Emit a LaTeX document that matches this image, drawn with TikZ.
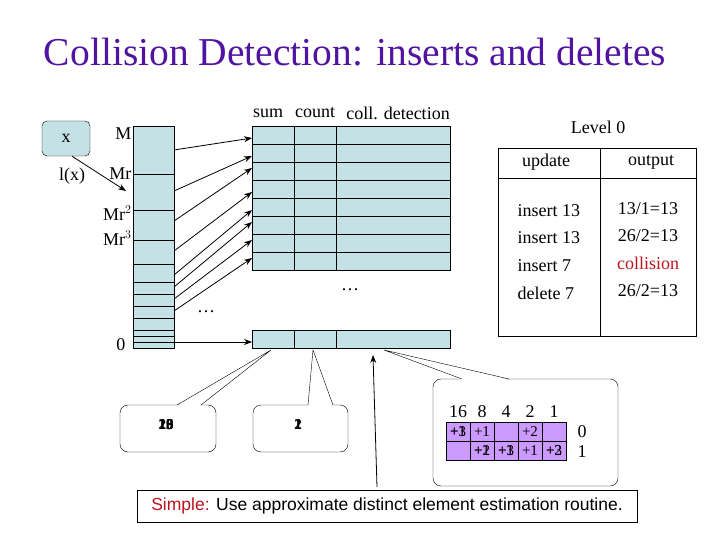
\documentclass[tikz,border=0pt]{standalone}
\usepackage{fontspec}
\setmainfont{Liberation Serif}
\setsansfont{Liberation Sans}
\usetikzlibrary{arrows.meta}
\definecolor{cellblue}{RGB}{196,226,230}
\definecolor{bitpurple}{RGB}{204,153,255}
\definecolor{titlepurple}{RGB}{80,20,160}
\definecolor{darkred}{RGB}{190,20,30}
\begin{document}
\begin{tikzpicture}[x=1pt,y=-1pt,font=\fontsize{18}{20}\selectfont,
	cellstyle/.style={draw,fill=cellblue},
	ptr/.style={-{Stealth[length=8pt,width=6pt]},thick},
	callout/.style={draw,rounded corners=8pt,fill=white}]
	\useasboundingbox (0,0) rectangle (720,540);
	\node[titlepurple,font=\fontsize{39.5}{42}\selectfont] (title) at (355,52) {Collision Detection: inserts and deletes};
	% input element
	\node[cellstyle,rounded corners=5pt,minimum width=48pt,minimum height=35pt] (x) at (66,138.5) {x};
	\node (lx) at (72,176) {l(x)};
	\coordinate (hit) at (126,191);
	\draw[ptr] (x.south) ++(6,0) -- (hit);
	% level column
	\draw[cellstyle] (133,126) rectangle (174,348);
	\foreach \y in {174,210,240,264,282,294,306,318,330,336,342}
		\draw (133,\y) -- (174,\y);
	\node[anchor=east] (M) at (135,134) {M};
	\node[anchor=east] (Mr) at (135,174) {Mr};
	\node[anchor=east] (Mr2) at (135,213) {Mr$^2$};
	\node[anchor=east] (Mr3) at (135,238) {Mr$^3$};
	\node[anchor=east] (zero) at (129,345) {0};
	% level tables
	\foreach \i in {0,...,7}
		\draw[cellstyle] (252,126+18*\i) rectangle (294,144+18*\i) (294,126+18*\i) rectangle (336,144+18*\i) (336,126+18*\i) rectangle (450,144+18*\i);
	\draw[cellstyle] (252,330) rectangle (294,348) (294,330) rectangle (336,348) (336,330) rectangle (450,348);
	\node (sum) at (268,113) {sum};
	\node (count) at (315,113) {count};
	\node (coll) at (398,113) {coll. detection};
	\foreach \a/\b [count=\k] in {150/138,191/156,221/168,251/192,275/210,287/222,299/240,311/258,342/342} {
		\coordinate (src\k) at (174,\a);
		\coordinate (dst\k) at (252,\b);
		\draw[ptr] (src\k) -- (dst\k);
	}
	\node (dots1) at (350,290) {\dots};
	\node (dots2) at (206,312) {\dots};
	% level 0 trace
	\node (level) at (598,127) {Level 0};
	\draw (498,148) rectangle (696,336) (600,148) -- (600,336) (498,178) -- (696,178);
	\node (upd) at (546,162) {update};
	\node (out) at (651,162) {output};
	\foreach \u/\o [count=\k] in {insert 13/13\slash1=13,insert 13/26\slash2=13,insert 7/{\color{darkred}collision},delete 7/26\slash2=13} {
		\node[anchor=west] (u\k) at (514,183+27.5*\k) {\u};
		\node (o\k) at (648,181+27.5*\k) {\o};
	}
	% callouts
	\draw[callout] (120,405) rectangle (216,452);
	\fill[white] (177,406) -- (271,350) -- (201,406) -- cycle;
	\draw (177,405) -- (271,350) -- (201,405);
	\draw[callout] (253,405) rectangle (348,452);
	\fill[white] (308,406) -- (313,350) -- (333,406) -- cycle;
	\draw (308,405) -- (313,350) -- (333,405);
	\draw[callout] (433,379) rectangle (618,486);
	\fill[white] (462,380) -- (384,350) -- (509,380) -- cycle;
	\draw (462,379) -- (384,350) -- (509,379);
	\node[font=\fontsize{15}{17}\selectfont\bfseries] (sumval) at (166,425) {\rlap{13}\rlap{26}19};
	\node[font=\fontsize{15}{17}\selectfont\bfseries] (cntval) at (298,425) {\rlap{1}2};
	\coordinate (tail) at (377,487);
	\draw[ptr] (tail) -- (373,355);
	% bit counters
	\foreach \v [count=\i] in {16,8,4,2,1}
		\node (h\i) at (434+24*\i,412) {\v};
	\foreach \c [count=\i] in {{\rlap{+1}+3},+1,,+2,}
		\node[draw,fill=bitpurple,minimum width=24pt,minimum height=19pt,inner sep=0pt,font=\fontsize{15}{17}\selectfont] (a\i) at (434+24*\i,431.5) {\c};
	\foreach \c [count=\i] in {,{\rlap{+1}+2},{\rlap{+1}+3},+1,{\rlap{+2}+3}}
		\node[draw,fill=bitpurple,minimum width=24pt,minimum height=19pt,inner sep=0pt,font=\fontsize{15}{17}\selectfont] (b\i) at (434+24*\i,450.5) {\c};
	\node (r0) at (582,432) {0};
	\node (r1) at (582,452) {1};
	% note
	\node[draw,fill=white,minimum width=500pt,minimum height=32pt,font=\sffamily\fontsize{17.5}{20}\selectfont] (note) at (387,506) {{\color{darkred}Simple:} Use approximate distinct element estimation routine.};
\end{tikzpicture}
\end{document}
